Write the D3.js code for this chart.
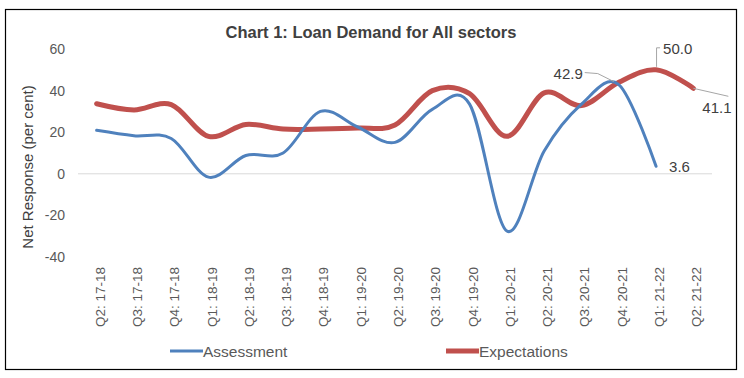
<!DOCTYPE html>
<html>
<head>
<meta charset="utf-8">
<script src="https://cdn.jsdelivr.net/npm/d3@7"></script>
<style>
  html, body { margin: 0; padding: 0; background: #fff; }
  svg { display: block; font-family: "Liberation Sans", Arial, sans-serif; }
</style>
</head>
<body>
<svg id="chart" width="744" height="378"></svg>
<script>
const categories = ["Q2: 17-18","Q3: 17-18","Q4: 17-18","Q1: 18-19","Q2: 18-19","Q3: 18-19","Q4: 18-19",
  "Q1: 19-20","Q2: 19-20","Q3: 19-20","Q4: 19-20","Q1: 20-21","Q2: 20-21","Q3: 20-21","Q4: 20-21",
  "Q1: 21-22","Q2: 21-22"];
const assessment = [20.9, 18.3, 17.0, -1.6, 8.8, 10.0, 30.0, 22.5, 15.1, 31.0, 33.5, -27.5, 11.0, 33.5, 42.9, 3.6];
const expectations = [33.7, 30.7, 33.3, 18.0, 23.7, 21.5, 21.5, 22.0, 23.5, 40.0, 38.5, 18.0, 38.9, 32.8, 44.0, 50.0, 41.1];
const yTicks = [-40, -20, 0, 20, 40, 60];
const seriesNames = ["Assessment", "Expectations"];
const title = "Chart 1: Loan Demand for All sectors";
const yTitle = "Net Response (per cent)";

const svg = d3.select("#chart");
const blue = "#4F81BD", red = "#C0504D", textCol = "#404040", tickCol = "#595959";

// frame
svg.append("rect").attr("x", 5.5).attr("y", 9.5).attr("width", 731).attr("height", 360)
  .attr("fill", "#fff").attr("stroke", "#000").attr("stroke-width", 1.2);

const x = d3.scalePoint().domain(categories).range([78, 712]).padding(0.5);
const y = d3.scaleLinear().domain([-40, 60]).range([257, 49]);

// title
svg.append("text").attr("x", 371).attr("y", 37.5).attr("text-anchor", "middle")
  .attr("font-size", 16.5).attr("font-weight", "bold").attr("fill", textCol).text(title);

// zero line
svg.append("line").attr("x1", 78).attr("x2", 712).attr("y1", y(0)).attr("y2", y(0))
  .attr("stroke", "#d9d9d9").attr("stroke-width", 1);

// y ticks
svg.append("g").selectAll("text").data(yTicks).join("text")
  .attr("x", 65).attr("y", d => y(d)).attr("dy", "0.36em").attr("text-anchor", "end")
  .attr("font-size", 14).attr("fill", tickCol).text(d => d);

// y title
svg.append("text").attr("transform", "translate(32.5,167) rotate(-90)").attr("text-anchor", "middle")
  .attr("font-size", 15).attr("fill", textCol).text(yTitle);

// x labels
svg.append("g").selectAll("text").data(categories).join("text")
  .attr("transform", d => `translate(${x(d) + 8},267) rotate(-90)`)
  .attr("text-anchor", "end").attr("font-size", 13.5).attr("fill", tickCol).text(d => d);

const curve = d3.curveCatmullRom.alpha(0);
const lineA = d3.line().x((d, i) => x(categories[i])).y(d => y(d)).curve(curve);

svg.append("path").attr("d", lineA(expectations)).attr("fill", "none")
  .attr("stroke", red).attr("stroke-width", 5).attr("stroke-linecap", "round").attr("stroke-linejoin", "round");
svg.append("path").attr("d", lineA(assessment)).attr("fill", "none")
  .attr("stroke", blue).attr("stroke-width", 3).attr("stroke-linecap", "round").attr("stroke-linejoin", "round");

// data labels with leader lines
const leader = "#a6a6a6";
const lab = svg.append("g").attr("font-size", 15).attr("fill", textCol);
{
  const i = 14, px = x(categories[i]), py = y(assessment[i]);
  svg.append("polyline").attr("points", `${px-5},${py-3} ${px-21},${py-11} ${px-34},${py-12}`)
    .attr("fill", "none").attr("stroke", leader).attr("stroke-width", 1);
  lab.append("text").attr("x", px - 36).attr("y", py - 6).attr("text-anchor", "end").text(assessment[i].toFixed(1));
}
{
  const i = 15, px = x(categories[i]), py = y(expectations[i]);
  svg.append("polyline").attr("points", `${px+0.5},${py-3} ${px+0.5},${py-22} ${px+4},${py-22}`)
    .attr("fill", "none").attr("stroke", leader).attr("stroke-width", 1);
  lab.append("text").attr("x", px + 7).attr("y", py - 16).text(expectations[i].toFixed(1));
}
{
  const i = 16, px = x(categories[i]), py = y(expectations[i]);
  svg.append("line").attr("x1", px).attr("y1", py).attr("x2", px + 35).attr("y2", py + 8)
    .attr("stroke", leader).attr("stroke-width", 1);
  lab.append("text").attr("x", px + 9).attr("y", py + 25).text(expectations[i].toFixed(1));
}
{
  const i = 15, px = x(categories[i]), py = y(assessment[i]);
  lab.append("text").attr("x", px + 13).attr("y", py + 6).text(assessment[i].toFixed(1));
}

// legend
const legend = [
  { name: seriesNames[0], color: blue, w: 3, x0: 170 },
  { name: seriesNames[1], color: red, w: 5, x0: 446 }
];
const lg = svg.append("g").selectAll("g").data(legend).join("g");
lg.append("line").attr("x1", d => d.x0).attr("x2", d => d.x0 + 33).attr("y1", 351).attr("y2", 351)
  .attr("stroke", d => d.color).attr("stroke-width", d => d.w);
lg.append("text").attr("x", d => d.x0 + 33).attr("y", 356.5).attr("font-size", 15.5)
  .attr("fill", tickCol).text(d => d.name);
</script>
</body>
</html>
